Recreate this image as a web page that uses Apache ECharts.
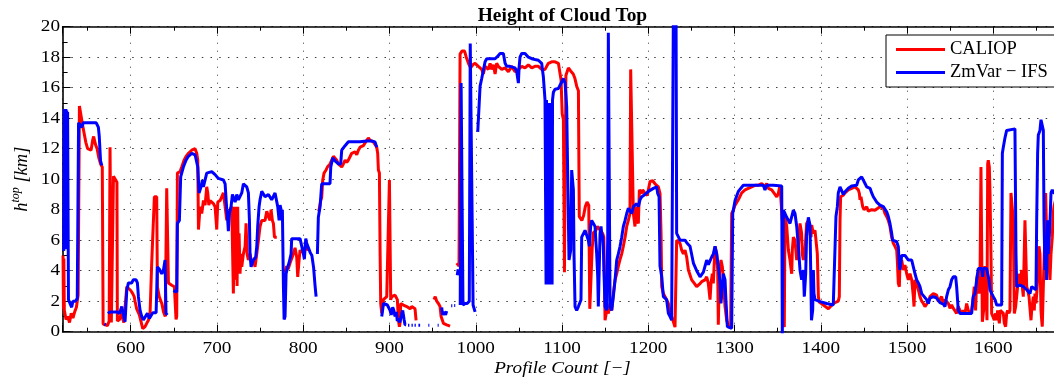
<!DOCTYPE html>
<html>
<head>
<meta charset="utf-8">
<title>Height of Cloud Top</title>
<script src="https://cdn.jsdelivr.net/npm/echarts@6/dist/echarts.min.js"></script>
<style>
  html, body { margin: 0; padding: 0; background: #ffffff; }
  #chart { width: 1054px; height: 379px; }
</style>
</head>
<body>
<div id="chart"></div>
<script>
// Cloud-top height along the track: [profile, height km]; null marks a gap in the record.
const seriesNames = ['CALIOP', 'ZmVar \u2212 IFS'];

const caliop = [
  [521.5,5.0],[522,1.5],[522.5,4.8],[523,1.4],[525,0.8],[527,1.0],[529,0.6],[531,1.2],[533,0.9],[535,1.3],[537,1.6],[539,2.4],
  [540.5,14.8],[542,14.3],[544,13.6],[546,13.0],[548,12.4],[550,12.0],[552,12.1],[554,11.9],[556,12.6],[557,12.8],[559,12.3],[561,12.0],[563,11.4],[565,11.0],[567,10.8],
  [568,0.5],[570,0.6],[573,0.4],[575,0.7],[576,12.1],[577,12.0],[577.5,0.6],[579,0.7],[580,10.2],[582,10.0],[584,9.8],[584.5,0.7],[587,0.8],[589,1.2],[592,0.6],
  [595.4,2.95],[597.3,2.85],[600,2.7],[602.3,2.5],[604,2.3],[605,2.0],[606.9,1.5],[608.5,1.4],[610,1.1],[612,1.0],[613.9,0.2],[616.6,0.33],[618.5,0.55],[620.5,0.75],[622.4,1.2],
  [624.3,4.5],[626.3,4.6],[627.4,8.85],[630.1,8.85],[630.9,2.95],[633,2.3],[636,1.85],[638,1.3],[640,1.0],[641.7,9.4],[642.9,9.4],[643.7,3.2],[647.5,3.05],[650.6,2.95],[652.5,0.8],[653.3,1.0],
  [654.1,10.4],[657.2,10.5],[659.1,10.8],[661.8,11.25],[664.1,11.5],[666.9,11.7],[670.7,11.9],[674.6,12.0],[676.5,11.7],[677.7,11.25],
  [678.5,6.7],[680.4,8.2],[682.3,7.75],[684.3,8.6],[686.2,8.3],[688.1,9.5],[689.3,9.1],[690.5,8.3],[692,8.6],[693.9,8.5],[695.8,8.4],[697.8,8.2],[699.7,6.7],[700.9,8.5],
  [703.6,8.6],[705.5,8.85],[707.4,9.1],[709.4,8.2],[711.3,7.3],[713.2,7.4],[715.2,8.0],[717.1,8.2],[719,2.5],[720.2,8.2],[721,3.4],[722.1,8.2],[723.3,3.0],[724,8.2],
  [724.8,3.8],[725.6,6.45],[726.7,3.8],[727.9,5.1],[728.7,4.25],[730.6,5.1],[732.6,5.6],[733.7,7.1],[734.9,5.1],[736.4,4.7],[738.3,5.1],[740.3,4.5],[742.2,4.7],[744.1,4.25],
  [746.1,5.1],[748,6.0],[749.9,6.9],[751.9,7.3],[753.8,7.4],[755.7,7.3],[757.7,7.9],[759.6,7.55],[761.5,7.3],[762.7,8.0],[764.2,7.3],[765.4,7.1],[766.6,6.2],[769.3,6.2],
  null,
  [778.9,3.9],[780.8,4.3],[782.5,4.1],[784.7,4.5],[786.6,4.6],[788.5,5.1],[790.5,5.5],[792.4,4.9],[793.6,3.6],[795,4.6],[796.3,5.35],[798.2,5.2],[800.1,5.35],[802,5.5],[804,5.6],[805.9,5.35],
  null,
  [818,7.9],[820.3,8.6],[821.4,8.8],[822.6,9.95],[824.1,10.4],[826.4,10.6],[828,10.8],[829.5,10.8],[831.1,11.0],[833,11.25],[835,11.5],[836.9,11.6],[838.8,11.25],[840.7,11.0],
  [842.7,11.0],[844.6,10.8],[846.5,11.0],[848.5,11.25],[850.4,11.1],[852.3,11.25],[854.2,11.35],[856.2,11.7],[858.1,11.8],[860,11.8],[862,11.6],[863.9,11.9],[865.9,12.1],
  [867.8,12.0],[869.7,12.2],[871.7,12.3],[873.6,12.55],[875.5,12.7],[877.5,12.55],[879.4,12.45],[881.3,12.45],[883.2,12.55],[885.2,12.1],[886.3,11.7],[887.1,10.6],[888.3,10.4],
  [889.1,5.1],[889.8,1.85],[891,1.2],[892.1,1.65],[892.9,2.1],[894.8,2.2],[896.8,2.3],[898.7,2.2],[899.9,9.95],[900.6,9.95],[901.4,2.1],[902.6,2.3],[904.5,2.4],[906.4,2.4],
  [908.4,2.3],[909.1,2.1],[910.3,0.75],[911.5,0.33],[912.2,0.55],[913,1.85],[914.2,1.85],[916.1,1.75],[918,1.65],[920,1.65],[922,1.65],[923.8,1.5],[925.7,1.65],[927.7,1.65],[929.6,1.5],[930.8,0.75],
  null,
  [951.6,2.1],[953,2.3],[954.7,2.0],[956.7,1.85],[958.6,1.65],[959.8,1.0],[962.5,0.55],[966.3,0.45],[970.2,0.37],
  null,
  [977.9,4.5],[980.6,4.3],[981.8,18.2],[984,18.4],[987,18.4],[989,18.0],[991.5,17.6],[994,17.3],[996.5,17.5],[999.2,17.6],[1003,17.4],[1006.9,17.2],[1008.8,16.9],[1010.8,17.4],
  [1014.6,17.2],[1016.6,17.6],[1018.5,17.2],[1020.4,17.5],[1022.4,16.9],[1024.3,17.6],[1026.2,17.4],[1030.1,17.2],[1033.9,17.3],[1037.8,17.05],[1041.7,17.4],[1045.5,17.05],
  [1049.4,17.2],[1053.3,17.4],[1057.1,17.3],[1061,17.5],[1064.9,17.3],[1068.7,17.4],[1072.6,17.4],[1076.4,17.2],[1080.3,17.2],[1082.2,17.4],[1084.2,17.6],[1088,17.7],[1091.9,17.7],
  [1095.8,17.6],[1098.9,16.5],[1100.2,14.3],[1101.6,13.9],[1102.8,3.9],[1104.5,16.8],[1107.4,17.3],[1110,17.1],[1113,16.9],[1115,16.6],[1117,16.1],[1119,15.8],
  [1120,7.55],[1123,7.3],[1125,7.6],[1127,8.2],[1129,8.5],[1131,8.3],[1132.2,1.5],[1133.5,1.4],[1135,5.5],[1136.5,6.5],[1139,6.6],[1141,6.9],[1143,6.9],[1145,6.6],[1147,6.45],[1148.5,6.2],
  [1149.9,0.75],[1151.8,1.4],[1153.7,1.2],[1155.7,1.85],[1157.6,1.4],[1159.5,2.5],[1161.5,3.4],[1163.4,3.8],[1165.3,4.3],[1167.3,4.75],[1169.2,5.1],[1171.1,5.6],[1173.1,6.2],
  [1175,6.9],[1176.9,7.3],[1178.8,7.75],[1179.6,17.2],[1181.5,17.2],[1182.7,7.75],[1184.6,6.9],[1185.8,8.2],[1187.3,7.3],[1188.5,7.1],[1189.7,9.3],[1190.4,9.4],[1192.4,9.07],
  [1193.5,9.3],[1196.2,9.07],[1198.9,8.95],[1200.1,9.3],[1202,9.85],[1205.1,9.9],[1207.8,9.7],[1209.8,9.6],[1211.7,9.5],[1213.6,9.07],[1214.8,6.45],[1215.6,2.95],[1217.5,2.5],
  [1219.4,2.3],[1221.3,2.3],[1223.3,1.85],[1225.2,1.4],[1227.1,0.98],[1229.1,0.65],[1231,0.3],[1232.9,6.0],[1236.8,5.8],[1238.7,5.35],[1240.7,5.1],[1242.6,5.35],[1244.5,4.9],
  [1246.5,4.05],[1250.3,3.4],[1253,3.2],[1256.1,2.95],[1259,3.1],[1261.9,3.28],[1265.8,3.4],[1267.7,3.6],[1269.6,3.17],[1271.6,2.1],[1272.7,3.17],[1274.3,3.8],[1275.4,3.17],
  [1277.4,5.6],[1279.3,5.1],[1280.5,4.0],[1281.2,0.45],[1282.4,3.8],[1284.3,4.7],[1285.9,4.25],[1287,3.4],[1289,1.65],[1290.9,0.75],[1292.8,0.33],[1295.5,0.3],
  [1296.7,7.75],[1298.6,7.97],[1300.6,8.3],[1304.4,8.65],[1308.3,9.1],[1312.2,9.3],[1316,9.4],[1319.9,9.5],[1323.7,9.6],[1325.7,9.72],[1327.6,9.6],[1331.5,9.72],[1333.4,9.85],
  [1335.3,9.5],[1337.3,9.72],[1339.2,9.4],[1343.1,9.3],[1346.9,9.0],[1348.9,8.85],[1350.8,9.07],[1352.7,9.6],[1354.7,9.5],[1355.4,7.3],[1356.6,7.75],[1357.7,0.3],[1358.5,7.6],
  [1360.5,6.9],[1362.4,5.35],[1364.3,4.7],[1366.3,3.8],[1367,5.35],[1368.2,6.2],[1370.1,6.0],[1372.1,4.7],[1374,5.6],[1375.9,7.1],[1377.8,6.45],[1378.6,5.1],[1379.8,4.7],
  [1381.7,5.35],[1383.6,7.1],[1385.6,7.3],[1387.5,6.4],[1388.7,6.2],[1389.4,7.0],[1391.4,6.45],[1393.3,6.65],[1395.2,6.65],[1396,5.1],[1397.2,2.3],[1398.3,1.95],[1403,1.75],
  [1408.8,1.5],[1414.5,1.85],[1420.3,2.0],[1421.5,2.3],[1422.3,7.3],[1423,8.85],[1426.1,8.95],[1428.1,9.1],[1431.9,9.3],[1433.9,9.4],[1439.7,9.5],[1443.5,9.3],[1444.7,9.07],
  [1445.5,8.65],[1446.6,8.85],[1448.6,8.2],[1450.1,8.0],[1453.2,8.2],[1455.1,7.9],[1459,8.0],[1462.8,7.97],[1464.8,7.9],[1468.6,8.2],[1472.5,8.1],[1474.4,7.75],[1476.4,7.55],
  [1478.3,7.3],[1480.2,6.9],[1482.2,6.2],[1484.1,5.8],[1486,5.6],[1488,5.35],[1488.7,4.7],[1489.9,3.17],[1491.1,2.95],[1491.8,4.5],[1493.8,4.7],[1495.7,4.05],[1497.6,4.37],
  [1499.6,3.8],[1501.5,3.4],[1503.4,3.8],[1505.4,3.4],[1507.3,2.3],[1508.1,1.65],[1509.2,3.4],[1511.2,3.17],[1513.1,2.75],[1515,2.3],[1517,2.0],[1518.9,1.85],[1520.8,1.65],
  [1522.7,1.75],[1524.7,1.97],[1526.6,2.3],[1528.5,2.4],[1530.5,2.5],[1532.4,2.6],[1534.3,2.4],[1536.3,1.97],[1538.2,2.1],[1540.1,2.3],[1542.1,1.85],[1544,2.1],[1545.9,1.97],
  [1547.9,1.85],[1549.8,1.53],[1551.7,1.75],[1553.7,1.53],[1555.6,1.4],[1557.5,1.2],[1559.4,1.64],[1561.4,1.4],[1563.3,1.2],[1565.2,1.4],[1567.2,1.2],[1569.1,1.85],[1571,1.4],
  [1573,1.2],[1574.9,1.4],[1576.8,2.3],[1578,2.95],[1579.5,1.4],[1580.7,3.4],[1581.9,3.8],[1583.4,2.5],[1584.6,3.4],[1585.7,10.8],[1586.5,10.8],[1587.3,0.65],[1588.4,0.75],
  [1589.6,1.85],[1590.4,4.3],[1591.5,2.95],[1592.7,0.75],[1593.5,11.0],[1594.2,11.25],[1595.4,10.8],[1596.2,9.1],[1597.3,5.1],[1598.1,1.2],[1600,1.2],[1601.2,0.75],[1602.7,1.2],
  [1603.9,0.75],[1605,1.4],[1607,0.55],[1608.1,1.4],[1609.7,1.4],[1611.6,1.2],[1612.8,0.55],[1614.3,0.33],[1615.5,1.2],[1616.6,1.4],[1618.2,1.2],[1619.3,1.4],[1620.5,9.1],
  [1622,9.1],[1623.2,7.3],[1624.4,1.2],[1625.9,1.64],[1627.1,2.3],[1628.2,2.95],[1629,3.8],[1630.9,2.95],[1632.1,3.4],[1632.9,4.05],[1633.6,2.95],[1634.8,2.3],[1636,2.3],
  [1636.7,7.3],[1637.9,7.3],[1638.7,2.95],[1639.8,2.75],[1641.4,2.3],[1642.5,2.3],[1643.7,0.75],[1644.5,1.4],[1646.4,2.3],[1647.5,1.4],[1648.3,2.5],[1649.5,1.85],[1650.3,2.5],
  [1651.4,3.4],[1652.2,4.05],[1653,5.6],[1654.1,5.1],[1655.3,1.4],[1656.1,0.75],[1656.8,0.33],[1658,2.95],[1659.1,5.1],[1659.9,6.2],[1660.7,9.1],[1661.8,6.45],[1663.8,5.35],
  [1665.7,3.4],[1666.9,5.1],[1668.4,6.2],[1669.5,7.75],[1670.3,8.2],[1672,8.6]
];

const zmvarIfs = [
  [522.3,5.3],[522.8,14.6],[523.3,5.5],[523.8,14.6],[524.3,5.4],[524.8,14.6],[525.3,5.6],[525.8,14.5],[526.3,5.5],[526.8,14.4],[527.8,2.1],[530,2.0],[531.5,1.6],[533,2.0],[536,2.0],[538,2.2],
  [539.5,13.7],[541,13.7],[543,13.4],[545,13.7],[550,13.7],[555,13.7],[560,13.7],[562.5,13.4],[563.5,12.8],[565,11.2],[566.4,10.9],
  null,
  [569.5,0.5],[571,0.45],
  null,
  [573.5,1.2],[576,1.3],[580,1.3],[584,1.3],[587,1.2],[589.6,1.65],[591.5,1.1],[593.4,0.65],[595.4,2.7],[597.3,3.2],[601,3.2],[603,3.4],[604.9,3.35],[606.2,3.4],[607.7,3.2],
  [608.9,2.3],[610.8,1.4],[612.7,1.0],[614.6,0.77],[616.6,0.65],[619.3,1.2],[621.6,0.87],[623.2,0.87],[625.5,1.25],[629.4,1.25],[630.9,4.25],[633.2,4.1],[634.8,4.0],[635.9,3.8],
  [637.8,4.0],[639.8,4.7],[640.9,1.2],[642.5,1.1],
  null,
  [649.4,2.7],[653.3,2.6],[654.1,7.1],[656.4,7.3],[657.9,10.15],[661,10.8],[664.1,11.25],[666.8,11.5],[670.7,11.7],[672.6,11.8],[674.6,11.6],[676.5,11.5],[677.7,10.8],
  [679.2,9.1],[681.5,9.5],[683.1,9.95],[684.2,9.5],[686.2,9.95],[688.1,10.4],[690,10.5],[693.9,10.5],[697.8,10.3],[701.6,10.05],[703.6,9.95],[707.4,9.95],[709.4,9.7],
  [711.3,8.0],[712.4,7.3],[713.2,6.6],[714.4,7.75],[716.3,8.2],[717.9,9.0],[720.2,9.0],[721,8.5],[722.9,9.0],[724.8,8.65],[726.7,8.65],[728.7,9.1],[730.6,9.7],[732.5,9.7],
  [734.5,9.5],[736.4,9.1],[737.6,7.3],[738.3,5.1],[739.5,4.25],[742.2,4.7],[744.9,4.9],[746.1,5.6],[747.2,6.9],[748.8,8.2],[749.9,8.65],[751.9,9.2],[755.7,8.85],[759.6,9.0],
  [763.4,8.65],[767.3,9.1],[769.2,9.0],[770.4,8.2],[772,7.3],[773.1,8.3],[774.3,8.0],[775.1,7.3],[775.8,8.0],[777,3.0],[777.8,0.8],[778.9,1.0],[780.1,3.8],[782,4.25],
  [783.5,4.5],[785.9,5.1],[786.6,6.1],[790.5,6.1],[796.3,6.1],[798.2,6.0],[800.2,5.1],[801.3,4.75],[802.9,6.1],[804,5.8],[806,5.5],[808,5.2],[810,5.0],[812,4.2],[813.7,3.0],[814.9,2.3],
  null,
  [816.4,5.1],[817.5,7.5],[819.5,8.2],[821.4,9.7],[823.4,9.7],[827.2,9.7],[831,9.7],[831.9,10.8],[834.2,11.4],[836.9,11.2],[840.7,11.0],[843.4,11.0],[844.6,11.9],[846.5,12.0],
  [848.5,12.2],[852.3,12.45],[858.1,12.45],[865.8,12.45],[873.6,12.5],[879.4,12.5],[881.3,12.55],[883.2,12.45],[885.2,12.1],
  null,
  [891,1.0],[893,1.85],[895,1.8],[897.5,1.75],[899,1.65],[900.6,1.4],[902,1.1],[903.7,1.6],[905,1.4],[906.4,1.0],[908,1.3],[909,0.7],[910.3,0.87],[912,0.6],[914.2,1.2],
  [915.3,1.4],[916.9,0.8],[918,0.45],[919.2,0.45],
  null, [921.5,0.42],[923,0.42],
  null, [925.5,0.42],[927,0.42],
  null, [929,0.42],[930.5,0.42],
  null, [933.5,0.42],[935.5,0.42],
  null, [945,0.42],[946.2,0.42],
  null, [955.8,0.42],[957,0.42],
  null, [960.5,1.6],[961.5,1.1],[963.3,1.3],[965,1.1],[966.3,1.35],
  null, [971.5,1.7],[972.8,1.7],
  null, [975,1.72],[976.2,1.72],
  null, [978.5,3.7],[979.6,4.1],
  null,
  [982,1.75],[983,16.3],[984.3,16.3],[985.2,1.75],[987.6,1.85],[990,1.85],[992.5,2.0],[993.6,18.9],[995.5,18.9],[996.9,1.75],[999.2,1.3],
  null,
  [1002.3,13.1],[1005,16.1],[1006.9,16.6],[1010.8,17.7],[1012.7,17.9],[1016.6,17.9],[1022.4,17.9],[1026.2,18.1],[1028.2,18.25],[1032,18.25],[1034,17.6],[1035.9,17.4],
  [1039.7,17.4],[1045.5,17.3],[1047.5,17.05],[1049.4,16.3],[1050.2,17.3],[1051.3,18.0],[1053.3,18.25],[1057.1,18.25],[1061,18.0],[1064.9,17.9],[1068.7,17.85],[1072.6,17.8],
  [1076.4,17.6],[1078.4,16.7],[1080.3,15.2],[1081.5,3.1],[1082,15.2],[1082.5,3.1],[1083,15],[1083.5,3.1],[1084,15],[1084.5,3.1],[1085,15],[1085.5,3.1],[1086,15],[1086.5,3.1],
  [1087,15],[1087.5,3.1],[1088,15],[1088.5,3.1],[1089,15.2],[1090,15.7],[1091.9,15.9],[1095.8,15.95],[1098.9,16.3],[1101.6,16.6],[1103.5,16.3],[1104.7,15.4],[1105.4,14.75],
  [1106.2,11.7],[1108.1,4.7],[1109.3,4.7],[1110.1,5.35],[1111.2,10.6],[1112.4,10.6],[1113.2,9.3],[1113.9,5.1],[1115.1,1.65],[1117,1.4],[1119,1.65],[1122,2.1],[1122.8,6.2],
  [1126.7,6.65],[1128.6,6.65],[1130.5,6.0],[1131.7,5.6],[1133.2,6.9],[1134.4,7.3],[1136.3,7.4],[1138.3,6.9],[1139.4,5.8],[1140.2,5.1],[1141.4,3.6],[1142.1,1.65],[1143.3,1.65],
  [1144.1,6.45],[1145.2,6.9],[1146,6.45],[1147.2,6.2],[1147.9,5.6],[1148.7,3.8],[1149.9,1.65],[1151.8,1.4],[1153,6.2],[1153.7,19.6],[1154.9,19.6],[1155.7,1.6],[1157.6,1.4],
  [1159.5,2.3],[1161.5,3.4],[1163.4,4.7],[1165.3,5.1],[1167.3,5.6],[1169.2,6.2],[1171.1,6.9],[1173.1,7.3],[1175,7.75],[1176.9,8.1],[1178.8,8.2],[1180.8,7.75],[1182.7,8.2],
  [1186.6,8.4],[1188.5,8.2],[1190.4,8.65],[1192.4,8.85],[1196.2,9.0],[1200.1,9.2],[1202,9.3],[1205.9,9.4],[1207.8,9.5],[1209.8,9.5],[1210.9,9.07],[1212.5,8.85],[1213.6,4.3],
  [1215.6,3.6],[1217.5,2.3],[1221.3,2.1],[1223.3,1.2],[1225.2,1.0],[1227.1,0.75],[1229.1,21],[1232.2,21],[1232.9,6.45],[1236.8,6.0],[1240,6.0],[1242.6,6.0],[1245,5.8],
  [1248.4,5.6],[1252.3,4.5],[1256.1,4.0],[1260,3.6],[1263.9,3.9],[1265.8,4.3],[1267.7,4.7],[1269.7,4.4],[1271.6,4.5],[1273.5,4.9],[1275.4,5.1],[1277.4,5.6],[1279.3,5.1],
  [1281.2,4.3],[1283.2,3.2],[1284.3,1.85],[1285.9,2.95],[1287,3.8],[1289,3.4],[1290.1,2.0],[1291.7,0.33],[1296.7,0.22],[1297.9,7.75],[1300.6,8.6],[1302.5,8.9],[1304.4,9.2],
  [1306.3,9.3],[1310.2,9.6],[1325,9.6],[1333.4,9.6],[1335.3,9.3],[1337.3,9.6],[1345,9.6],[1354.7,9.55],[1355.4,-0.2],[1356.6,7.97],[1358.5,7.75],[1360.5,7.5],[1362.4,7.3],
  [1364.3,7.1],[1366.3,7.55],[1368.2,7.97],[1370.1,7.75],[1372.1,6.9],[1374,5.6],[1375.9,4.05],[1377.8,3.4],[1379.8,4.05],[1380.9,2.3],[1382.5,3.8],[1383.6,6.45],[1385.6,7.5],
  [1387.5,7.0],[1389.2,0.75],[1390.6,1.4],[1391.4,4.05],[1392.1,2.5],[1393.3,2.1],[1399.1,1.97],[1406.8,1.85],[1414.5,1.75],[1416.5,1.85],[1417.6,7.55],[1419.2,8.2],[1420.3,9.1],
  [1422.3,9.5],[1424.2,9.4],[1426.1,9.0],[1428.1,9.18],[1431.9,9.4],[1435.8,9.55],[1441.6,9.6],[1443.5,9.95],[1445.5,10.05],[1447.4,10.15],[1449.3,10.05],[1451.3,9.72],
  [1453.2,9.5],[1457.1,9.4],[1459,9.1],[1460.9,8.85],[1464.8,8.5],[1468.6,8.3],[1472.5,8.2],[1474.4,8.1],[1476.4,7.86],[1478.3,7.55],[1480.2,7.1],[1482.2,6.45],[1483.3,6.0],
  [1488,5.9],[1489.9,5.57],[1491.1,4.25],[1491.8,4.05],[1493.8,5.0],[1497.6,5.0],[1501.5,4.7],[1503.4,4.8],[1505.4,4.7],[1507.3,4.25],[1509.2,3.8],[1511.2,3.4],[1513.1,3.2],
  [1515,2.95],[1517,2.5],[1518.9,2.4],[1522.7,2.1],[1524.7,1.85],[1526.6,2.2],[1528.5,2.1],[1530.5,2.3],[1532.4,2.3],[1534.3,2.2],[1536.3,2.1],[1538.2,1.9],[1540.1,2.0],
  [1542.1,1.8],[1544,1.65],[1545.9,2.3],[1547.9,2.75],[1549.8,2.95],[1551.7,3.4],[1553.7,3.6],[1556.4,3.6],[1557.5,2.95],[1559.4,1.4],[1561.4,1.2],[1563.3,1.3],[1567,1.2],
  [1571,1.2],[1574.9,1.2],[1576.8,2.3],[1578.8,2.5],[1580.7,3.4],[1582.6,4.15],[1586.5,4.15],[1587.7,3.6],[1588.4,4.15],[1592.3,4.15],[1593.5,3.8],[1595,3.4],[1596.2,2.75],
  [1598.1,2.5],[1600,2.3],[1602,2.1],[1603.9,1.75],[1605.8,1.65],[1609.7,1.75],[1610.5,11.7],[1611.6,12.1],[1613.5,12.7],[1615.5,13.2],[1617.4,13.3],[1625.1,13.3],[1626.3,5.1],
  [1627.1,2.95],[1630.9,3.06],[1634.8,2.95],[1638.7,2.75],[1642.5,2.5],[1644.5,2.95],[1649.5,2.75],[1650.3,7.3],[1651.4,11.7],[1652.2,12.9],[1654.1,13.2],[1655.3,13.9],
  [1656.8,13.9],[1658,13.2],[1658.8,7.3],[1659.9,4.05],[1660.7,6.2],[1661.8,3.4],[1663,7.3],[1663.8,5.1],[1665.7,7.1],[1666.9,9.1],[1668.4,9.3],[1670.3,9.1],[1672,9.1]
];

// Axis ranges and tick labels
const xRange = [521, 1680];
const yRange = [0, 20];
const yStep = 2;
const xTickLabels = [600, 700, 800, 900, 1000, 1100, 1200, 1300, 1400, 1500, 1600];
const yTickLabels = [0, 2, 4, 6, 8, 10, 12, 14, 16, 18, 20];

const SERIF = '"Liberation Serif", "Times New Roman", serif';
const WIDE = 1.2;   // horizontal stretch of the label glyphs

// gaps (null) become NaN points so the line breaks there
const toLine = rows => rows.map(p => (p === null ? [NaN, NaN] : p));

const chart = echarts.init(document.getElementById('chart'), null, { renderer: 'canvas' });

const dotted = (dash) => ({ show: true, lineStyle: { color: '#3a3a3a', width: 1, type: dash } });

const xCommon = {
  type: 'value',
  min: xRange[0],
  max: xRange[1],
  minInterval: 100,
  maxInterval: 100,
  axisLine: { show: true, onZero: false, lineStyle: { color: '#000', width: 1.6 } },
  axisTick: { show: true, inside: true, length: 7, lineStyle: { color: '#000', width: 1 } },
  minorTick: { show: true, splitNumber: 2, length: 4, lineStyle: { color: '#000', width: 1 } },
  axisLabel: { show: false }
};

chart.setOption({
  animation: false,
  backgroundColor: '#ffffff',
  grid: {
    left: 62.6, right: -8.3, top: 26.7, bottom: 47.3,
    containLabel: false, outerBoundsMode: 'none'
  },
  legend: {
    orient: 'vertical',
    left: 886, top: 35,
    padding: [5, 30, 5, 10],
    itemGap: 4,
    itemWidth: 49, itemHeight: 3,
    icon: 'rect',
    backgroundColor: '#ffffff',
    borderColor: '#000', borderWidth: 1, borderRadius: 0,
    textStyle: { fontFamily: SERIF, fontSize: 18.5, color: '#000', lineHeight: 18 },
    data: seriesNames
  },
  xAxis: [
    Object.assign({}, xCommon, { position: 'bottom', splitLine: dotted([1, 7]) }),
    Object.assign({}, xCommon, { position: 'top', splitLine: { show: false } })
  ],
  yAxis: {
    type: 'value',
    min: yRange[0], max: yRange[1], interval: yStep,
    axisLine: { show: true, onZero: false, lineStyle: { color: '#000', width: 1.6 } },
    axisTick: { show: true, inside: true, length: 8, lineStyle: { color: '#000', width: 1 } },
    minorTick: { show: true, splitNumber: 2, length: 5, lineStyle: { color: '#000', width: 1 } },
    axisLabel: { show: false },
    splitLine: dotted([1.5, 7.2])
  },
  series: [
    {
      name: seriesNames[0], type: 'line', xAxisIndex: 0,
      data: toLine(caliop), showSymbol: false, symbol: 'none', connectNulls: false,
      clip: true, silent: true,
      lineStyle: { color: '#ff0000', width: 3 }, itemStyle: { color: '#ff0000' }
    },
    {
      name: seriesNames[1], type: 'line', xAxisIndex: 0,
      data: toLine(zmvarIfs), showSymbol: false, symbol: 'none', connectNulls: false,
      clip: true, silent: true,
      lineStyle: { color: '#0000ff', width: 3 }, itemStyle: { color: '#0000ff' }
    }
  ]
});

// Tick labels and titles are placed from the axes' own pixel mapping.
const toPx = (x, y) => chart.convertToPixel({ xAxisIndex: 0, yAxisIndex: 0 }, [x, y]);
const origin = toPx(xRange[0], yRange[0]);
const plotTop = toPx(xRange[0], yRange[1])[1];
const plotLeft = origin[0];
const plotBottom = origin[1];
const plotMidX = (plotLeft + toPx(xRange[1], yRange[0])[0]) / 2;

const labelText = (x, y, text, align, vAlign, font, sx) => ({
  type: 'text', x: x, y: y, scaleX: sx || 1, z: 10, silent: true,
  style: { text: text, fill: '#000', align: align, verticalAlign: vAlign, font: font }
});

const graphics = [];
xTickLabels.forEach(v => {
  graphics.push(labelText(toPx(v, 0)[0], plotBottom + 17, String(v), 'center', 'middle', '16px ' + SERIF, WIDE));
});
yTickLabels.forEach(v => {
  graphics.push(labelText(plotLeft - 2.6, toPx(xRange[0], v)[1] + 0.5, String(v), 'right', 'middle', '16px ' + SERIF, WIDE));
});
graphics.push(labelText(plotMidX, plotTop - 10, 'Height of Cloud Top', 'center', 'middle', 'bold 18px ' + SERIF, 1.08));
graphics.push(labelText(plotMidX, plotBottom + 36.5, 'Profile Count [\u2212]', 'center', 'middle', 'italic 16.5px ' + SERIF, 1.16));
graphics.push({
  type: 'text', x: 21, y: (plotTop + plotBottom) / 2, rotation: Math.PI / 2, z: 10, silent: true,
  style: {
    text: '{m|h}{s|top}{m| [km]}',
    align: 'center', verticalAlign: 'middle',
    rich: {
      m: { fontFamily: SERIF, fontStyle: 'italic', fontSize: 18.5, fill: '#000', verticalAlign: 'bottom', lineHeight: 22 },
      s: { fontFamily: SERIF, fontStyle: 'italic', fontSize: 12, fill: '#000', verticalAlign: 'top', lineHeight: 12 }
    }
  }
});

chart.setOption({ graphic: graphics });
</script>
</body>
</html>
